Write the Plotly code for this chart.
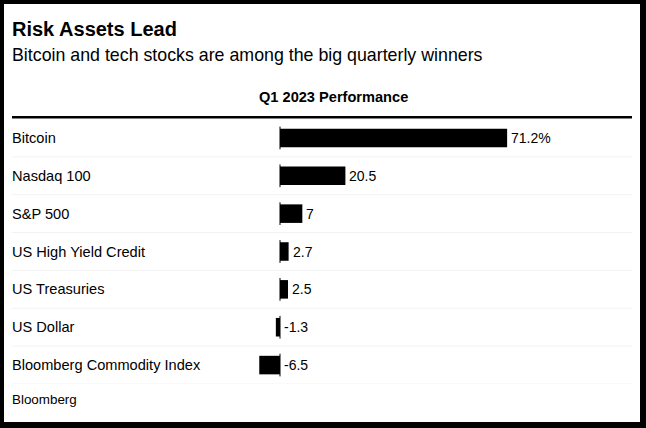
#!/usr/bin/env python3
"""
Bloomberg-style bar chart: Q1 2023 performance of risk assets
"""

import plotly.graph_objects as go

# Data
assets = [
    "Bitcoin",
    "Nasdaq 100",
    "S&P 500",
    "US High Yield Credit",
    "US Treasuries",
    "US Dollar",
    "Bloomberg Commodity Index",
]
performance = [71.2, 20.5, 7, 2.7, 2.5, -1.3, -6.5]
value_labels = ["71.2%", "20.5", "7", "2.7", "2.5", "-1.3", "-6.5"]

title_text = "Risk Assets Lead"
subtitle_text = "Bitcoin and tech stocks are among the big quarterly winners"
header_text = "Q1 2023 Performance"
source_text = "Bloomberg"

# Page geometry (pixels)
W, H = 646, 428
L, R, T, B = 12, 14, 119, 44
FONT = "Liberation Sans, Arial, sans-serif"


def px_x(x):
    """Pixel x -> paper fraction"""
    return (x - L) / (W - L - R)


def px_y(y):
    """Pixel y (from top) -> paper fraction"""
    return 1 - (y - T) / (H - T - B)


fig = go.Figure()

# Bars
fig.add_trace(go.Bar(
    x=performance,
    y=assets,
    orientation="h",
    marker_color="black",
    marker_line_width=0,
    width=0.49,
    hoverinfo="skip",
    showlegend=False,
))

shapes = []

# Black frame around the card
shapes.append(dict(type="rect", xref="paper", yref="paper", layer="below",
                   x0=px_x(4), x1=px_x(640), y0=px_y(4), y1=px_y(422),
                   fillcolor="white", line_width=0))

# Thick rule under the header
shapes.append(dict(type="line", xref="paper", yref="paper",
                   x0=0, x1=1, y0=px_y(117.3), y1=px_y(117.3),
                   line=dict(color="black", width=2.5)))

# Faint row separators and short zero-line ticks per row
for i in range(len(assets)):
    shapes.append(dict(type="line", xref="paper", yref="y", layer="below",
                       x0=0, x1=1, y0=i + 0.5, y1=i + 0.5,
                       line=dict(color="#f2f2f2", width=1)))
    shapes.append(dict(type="line", xref="x", yref="y",
                       x0=0, x1=0, y0=i - 0.3, y1=i + 0.3,
                       line=dict(color="black", width=1)))

# annotations carry ~2px of padding, so anchor them 2px further left
left = px_x(L - 2)
annotations = [
    dict(text=f"<b>{title_text}</b>", x=left, y=px_y(29),
         font=dict(family=FONT, size=20, color="black")),
    dict(text=subtitle_text, x=left, y=px_y(55),
         font=dict(family=FONT, size=17.8, color="black")),
    dict(text=f"<b>{header_text}</b>", x=px_x(333), y=px_y(97), xanchor="center",
         font=dict(family=FONT, size=14.6, color="black")),
    dict(text=source_text, x=left, y=px_y(399),
         font=dict(family=FONT, size=13.4, color="black")),
]
for a in annotations:
    a.setdefault("xanchor", "left")
    a.update(xref="paper", yref="paper", yanchor="middle", showarrow=False)

# Row labels, left aligned
for name in assets:
    annotations.append(dict(
        text=name, x=left, y=name, xref="paper", yref="y",
        xanchor="left", yanchor="middle", showarrow=False,
        font=dict(family=FONT, size=14.6, color="black"),
    ))

# Value labels just right of the bar end (or zero line for negatives)
for name, v, lab in zip(assets, performance, value_labels):
    annotations.append(dict(
        text=lab, x=max(v, 0), y=name, xref="x", yref="y",
        xanchor="left", yanchor="middle", xshift=2, showarrow=False,
        font=dict(family=FONT, size=14, color="black"),
    ))

zero_px = 280
scale = 3.19
fig.update_layout(
    width=W, height=H,
    margin=dict(l=L, r=R, t=T, b=B, pad=0),
    paper_bgcolor="black",
    plot_bgcolor="rgba(0,0,0,0)",
    shapes=shapes,
    annotations=annotations,
    xaxis=dict(range=[-(zero_px - L) / scale, (W - R - zero_px) / scale],
               visible=False, fixedrange=True),
    yaxis=dict(categoryorder="array", categoryarray=assets,
               range=[len(assets) - 0.5, -0.5],
               visible=False, fixedrange=True),
)

fig.write_html("out.html", config={"displayModeBar": False},
               post_script="document.body.style.margin='0';")
